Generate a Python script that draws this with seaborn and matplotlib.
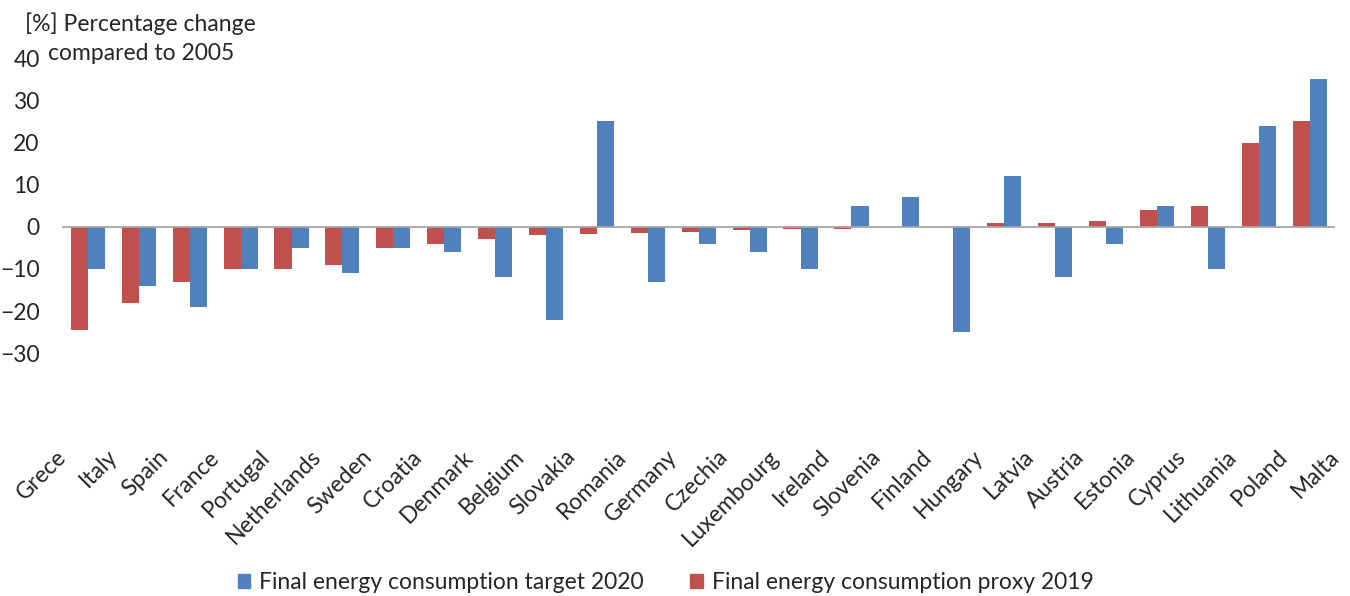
import pandas as pd
import seaborn as sns
import matplotlib.pyplot as plt
import matplotlib.transforms as mtransforms
from matplotlib.patches import Patch

# category labels as printed under the chart (26 labels, the first one has no visible bars)
countries = ['Grece', 'Italy', 'Spain', 'France', 'Portugal', 'Netherlands', 'Sweden',
             'Croatia', 'Denmark', 'Belgium', 'Slovakia', 'Romania', 'Germany', 'Czechia',
             'Luxembourg', 'Ireland', 'Slovenia', 'Finland', 'Hungary', 'Latvia', 'Austria',
             'Estonia', 'Cyprus', 'Lithuania', 'Poland', 'Malta']

# [%] change compared to 2005
proxy_2019 = [None, -24.5, -18, -13, -10, -10, -9, -5, -4, -3, -2, -1.7, -1.4, -1.2,
              -0.8, -0.5, -0.5, 0, 0, 1, 1, 1.4, 4, 5, 20, 25]
target_2020 = [None, -10, -14, -19, -10, -5, -11, -5, -6, -12, -22, 25, -13, -4,
               -6, -10, 5, 7, -25, 12, -12, -4, 5, -10, 24, 35]

series_target = 'Final energy consumption target 2020'
series_proxy = 'Final energy consumption proxy 2019'
yticks = [-30, -20, -10, 0, 10, 20, 30, 40]

blue = '#4F81BD'
red = '#C0504D'
fs = 16.5

df = pd.DataFrame({
    'country': countries * 2,
    'series': [series_proxy] * len(countries) + [series_target] * len(countries),
    'value': proxy_2019 + target_2020,
}).dropna()

sns.set_style('white')
plt.rcParams['font.family'] = ['Lato', 'DejaVu Sans']

fig = plt.figure(figsize=(13.5, 5.96), dpi=100)
ax = fig.add_axes([0.0459, 0.3366, 0.9430, 0.5657])

sns.barplot(data=df, x='country', y='value', hue='series', order=countries,
            hue_order=[series_proxy, series_target], palette=[red, blue],
            width=0.67, saturation=1, errorbar=None, linewidth=0, legend=False, ax=ax)

ax.axhline(0, color='#A6A6A6', lw=1.3, zorder=3)
ax.set_xlim(0.49, 25.5)
ax.set_ylim(-40, 40)
ax.set_yticks(yticks)
ax.set_xticks([])
ax.set_xlabel('')
ax.set_ylabel('')
ax.tick_params(axis='y', length=0, pad=16, labelsize=fs, labelcolor='#262626')
for s in ax.spines.values():
    s.set_visible(False)

# rotated category labels, placed like the original (slightly right of each slot)
off = mtransforms.ScaledTranslation(0.26, -0.58, fig.dpi_scale_trans)
for i, name in enumerate(countries):
    ax.text(i, 0, name, transform=ax.get_xaxis_transform() + off,
            rotation=45, ha='right', va='center', rotation_mode='anchor',
            fontsize=fs, color='#262626', clip_on=False)

# unit note, two centred lines (second one sits beside the 40 tick)
fig.text(140 / 1350, 1 - 24 / 596, '[%] Percentage change',
         ha='center', va='center', fontsize=fs, color='#262626')
fig.text(141 / 1350, 1 - 53 / 596, 'compared to 2005',
         ha='center', va='center', fontsize=fs, color='#262626')

handles = [Patch(color=blue, label=series_target), Patch(color=red, label=series_proxy)]
fig.legend(handles=handles, loc='center', bbox_to_anchor=(0.493, 0.022), ncol=2,
           frameon=False, fontsize=fs, handlelength=0.55, handleheight=0.55,
           handletextpad=0.4, columnspacing=2.0)

plt.savefig('out.png', dpi=100)
plt.close()
